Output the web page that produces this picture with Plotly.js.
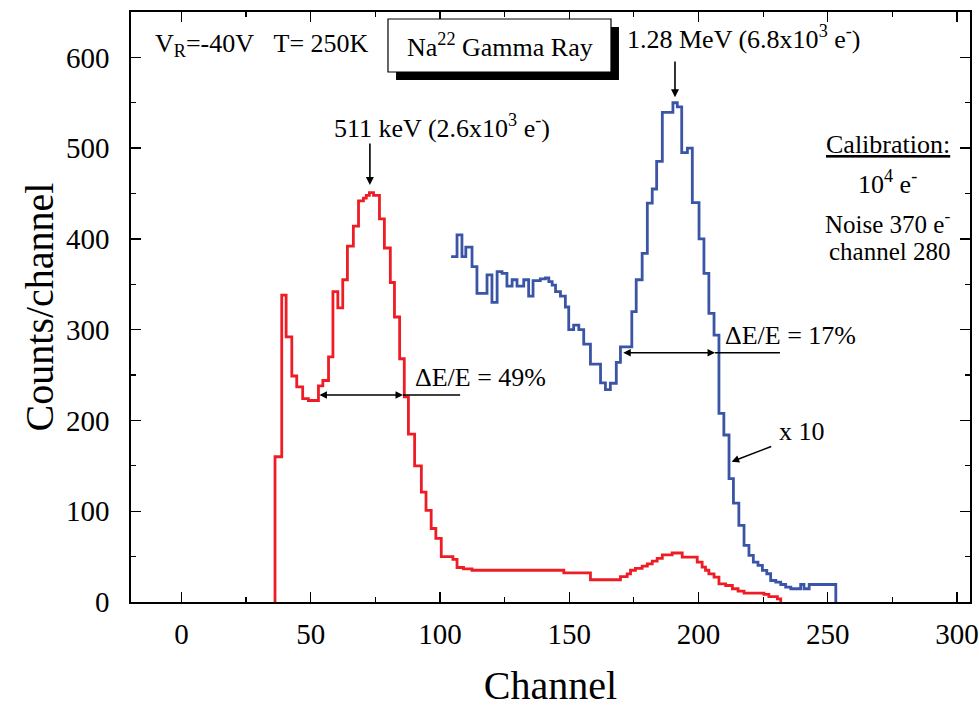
<!DOCTYPE html>
<html>
<head>
<meta charset="utf-8">
<script src="https://cdn.plot.ly/plotly-3.0.1.min.js"></script>
<style>html,body{margin:0;padding:0;background:#fff;}#chart{width:979px;height:708px;}</style>
</head>
<body>
<div id="chart"></div>
<script>
// Red spectrum (Na22, direct counts)
var redX = [36.2, 36.2, 38.8, 40.5, 42.7, 44.6, 46.9, 49.1, 53.0, 54.7, 56.9, 58.6, 60.5, 62.4, 64.2, 66.5, 68.5, 70.4, 71.5, 72.7, 74.3, 76.6, 78.5, 80.8, 82.4, 84.4, 86.2, 87.8, 90.2, 92.8, 94.6, 96.6, 98.4, 100.5, 105.0, 106.6, 109.1, 112.4, 147.9, 158.2, 169.8, 172.4, 173.7, 175.6, 178.2, 180.2, 182.1, 184.0, 186.0, 189.8, 193.7, 199.5, 201.4, 202.7, 204.0, 206.0, 207.9, 210.5, 213.1, 215.3, 217.6, 225.3, 227.2, 230.5, 231.8];
var redY = [0, 160, 338, 292, 249, 237, 224, 222, 238, 244, 270, 342, 324, 355, 392, 414, 442, 445, 448, 451, 448, 422, 390, 352, 314, 268, 226, 185, 150, 121, 101, 81, 70, 50, 47, 38, 36.5, 35, 32, 24.5, 28, 31, 35, 37, 39.5, 42, 45, 48, 52, 54, 49.5, 44, 38.4, 35, 31, 27.4, 20, 18.2, 14.6, 12, 9.7, 8.3, 6, 3.5, 0];

// Blue spectrum (x 10)
var blueX = [104.3, 106.6, 108.5, 110.0, 112.4, 114.3, 118.2, 120.1, 122.1, 124.0, 125.9, 127.9, 129.8, 132.4, 134.3, 136.0, 138.8, 140.8, 142.1, 143.4, 144.7, 146.6, 148.5, 149.8, 151.7, 153.7, 155.6, 158.2, 162.1, 164.0, 165.9, 168.2, 169.8, 174.2, 175.9, 178.2, 180.2, 182.1, 183.8, 186.0, 190.1, 191.8, 193.5, 195.7, 197.6, 200.2, 202.1, 204.0, 206.0, 207.9, 209.8, 211.8, 213.5, 215.6, 217.6, 219.5, 221.2, 223.0, 224.7, 226.4, 227.9, 229.9, 231.8, 233.7, 235.7, 239.5, 240.8, 242.8, 253.1];
var blueY = [380.6, 404.5, 380.6, 391, 369.5, 340, 360.4, 330, 364, 362, 348, 355, 348, 355, 337, 354, 356, 357, 353, 349, 342, 337, 325, 300, 305, 300, 284, 262, 241.5, 234, 241, 264, 281, 320, 355, 384, 439.5, 455, 485.5, 539.5, 550, 545.5, 495, 500, 440, 400, 362, 318, 294, 207.7, 184, 136, 109, 84.4, 62.4, 51.3, 44, 40.3, 34.8, 31.1, 23.7, 21.9, 19.3, 16.3, 14.6, 19.3, 14.6, 19.3, 0];

var xTickVals = [0, 50, 100, 150, 200, 250, 300];
var yTickVals = [0, 100, 200, 300, 400, 500, 600];

var serif = 'Liberation Serif, Times New Roman, serif';

var traces = [
  {x: redX, y: redY, mode: 'lines', line: {shape: 'hv', color: '#ee1c25', width: 2.8}, hoverinfo: 'skip', showlegend: false, cliponaxis: false},
  {x: blueX, y: blueY, mode: 'lines', line: {shape: 'hv', color: '#3b55a6', width: 2.8}, hoverinfo: 'skip', showlegend: false}
];

var axisCommon = {
  showline: true, linecolor: '#000', linewidth: 1.6, mirror: 'ticks',
  ticks: 'inside', ticklen: 10, tickwidth: 1.4, tickcolor: '#000',
  showgrid: false, zeroline: false,
  tickfont: {family: serif, size: 29, color: '#000'}
};

var layout = {
  width: 979, height: 708,
  margin: {l: 131, r: 9, t: 12, b: 106},
  paper_bgcolor: '#fff', plot_bgcolor: '#fff',
  xaxis: Object.assign({}, axisCommon, {
    range: [-19.5, 305], tickvals: xTickVals, ticklabelstandoff: 6,
    minor: {dtick: 25, tick0: 0, ticks: 'inside', ticklen: 5, tickwidth: 1.2, tickcolor: '#000', showgrid: false},
    title: {text: 'Channel', font: {family: serif, size: 40, color: '#000'}, standoff: 27}
  }),
  yaxis: Object.assign({}, axisCommon, {
    range: [0, 650], tickvals: yTickVals, ticklabelstandoff: 14,
    minor: {dtick: 50, tick0: 0, ticks: 'inside', ticklen: 5, tickwidth: 1.2, tickcolor: '#000', showgrid: false},
    title: {text: 'Counts/channel', font: {family: serif, size: 40, color: '#000'}, standoff: 0}
  }),
  shapes: [
    {type: 'rect', xref: 'paper', yref: 'paper', x0: 0.3159, x1: 0.5816, y0: 0.8847, y1: 0.9746, fillcolor: '#000', line: {width: 0}},
    {type: 'rect', xref: 'paper', yref: 'paper', x0: 0.3063, x1: 0.5721, y0: 0.8983, y1: 0.9881, fillcolor: '#fff', line: {color: '#000', width: 1.2}},
    {type: 'line', xref: 'x', yref: 'y', x0: 85.7, x1: 107.8, y0: 228, y1: 228, line: {color: '#000', width: 1.5}},
    {type: 'line', xref: 'x', yref: 'y', x0: 206.4, x1: 231.5, y0: 274.6, y1: 274.6, line: {color: '#000', width: 1.5}}
  ],
  annotations: [
    {xref: 'paper', yref: 'paper', x: 0.026, y: 0.944, xanchor: 'left', yanchor: 'middle', showarrow: false,
     text: 'V<sub>R</sub>=-40V\u00a0\u00a0\u00a0T= 250K', font: {family: serif, size: 26, color: '#000'}},
    {xref: 'paper', yref: 'paper', x: 0.44, y: 0.943, xanchor: 'center', yanchor: 'middle', showarrow: false,
     text: 'Na<sup>22</sup> Gamma Ray', font: {family: serif, size: 26, color: '#000'}},
    {xref: 'paper', yref: 'paper', x: 0.7306, y: 0.956, xanchor: 'center', yanchor: 'middle', showarrow: false,
     text: '1.28 MeV (6.8x10<sup>3</sup> e<sup>-</sup>)', font: {family: serif, size: 26, color: '#000'}},
    {xref: 'x', yref: 'y', x: 190.9, y: 556, axref: 'x', ayref: 'y', ax: 190.9, ay: 597, text: '', showarrow: true,
     arrowhead: 2, arrowsize: 1, arrowwidth: 1.6, arrowcolor: '#000', standoff: 0},
    {xref: 'paper', yref: 'paper', x: 0.3712, y: 0.8057, xanchor: 'center', yanchor: 'middle', showarrow: false,
     text: '511 keV (2.6x10<sup>3</sup> e<sup>-</sup>)', font: {family: serif, size: 26, color: '#000'}},
    {xref: 'x', yref: 'y', x: 72.9, y: 459.4, axref: 'x', ayref: 'y', ax: 72.9, ay: 506.8, text: '', showarrow: true,
     arrowhead: 2, arrowsize: 1, arrowwidth: 1.6, arrowcolor: '#000', standoff: 0},
    {xref: 'paper', yref: 'paper', x: 0.336, y: 0.381, xanchor: 'left', yanchor: 'middle', showarrow: false,
     text: '\u0394E/E = 49%', font: {family: serif, size: 26, color: '#000'}},
    {xref: 'x', yref: 'y', x: 85.7, y: 228, axref: 'x', ayref: 'y', ax: 52.8, ay: 228, text: '', showarrow: true,
     arrowhead: 2, startarrowhead: 2, arrowside: 'end+start', arrowsize: 1, startarrowsize: 1, arrowwidth: 1.5, arrowcolor: '#000', standoff: 0, startstandoff: 0},
    {xref: 'paper', yref: 'paper', x: 0.7056, y: 0.4525, xanchor: 'left', yanchor: 'middle', showarrow: false,
     text: '\u0394E/E = 17%', font: {family: serif, size: 26, color: '#000'}},
    {xref: 'x', yref: 'y', x: 206.4, y: 274.6, axref: 'x', ayref: 'y', ax: 170.3, ay: 274.6, text: '', showarrow: true,
     arrowhead: 2, startarrowhead: 2, arrowside: 'end+start', arrowsize: 1, startarrowsize: 1, arrowwidth: 1.5, arrowcolor: '#000', standoff: 0, startstandoff: 0},
    {xref: 'paper', yref: 'paper', x: 0.7697, y: 0.2886, xanchor: 'left', yanchor: 'middle', showarrow: false,
     text: 'x 10', font: {family: serif, size: 26, color: '#000'}},
    {xref: 'x', yref: 'y', x: 212.8, y: 154.6, axref: 'x', ayref: 'y', ax: 228.7, ay: 171.9, text: '', showarrow: true,
     arrowhead: 2, arrowsize: 1, arrowwidth: 1.5, arrowcolor: '#000', standoff: 0},
    {xref: 'paper', yref: 'paper', x: 0.9785, y: 0.776, xanchor: 'right', yanchor: 'middle', showarrow: false,
     text: '<u>Calibration:</u>', font: {family: serif, size: 26, color: '#000'}},
    {xref: 'paper', yref: 'paper', x: 0.9017, y: 0.7107, xanchor: 'center', yanchor: 'middle', showarrow: false,
     text: '10<sup>4</sup> e<sup>-</sup>', font: {family: serif, size: 26, color: '#000'}},
    {xref: 'paper', yref: 'paper', x: 0.9785, y: 0.6445, xanchor: 'right', yanchor: 'middle', showarrow: false,
     text: 'Noise 370 e<sup>-</sup>', font: {family: serif, size: 25, color: '#000'}},
    {xref: 'paper', yref: 'paper', x: 0.9785, y: 0.5935, xanchor: 'right', yanchor: 'middle', showarrow: false,
     text: 'channel 280', font: {family: serif, size: 25, color: '#000'}}
  ]
};

Plotly.newPlot('chart', traces, layout, {staticPlot: true, displayModeBar: false});
</script>
</body>
</html>
